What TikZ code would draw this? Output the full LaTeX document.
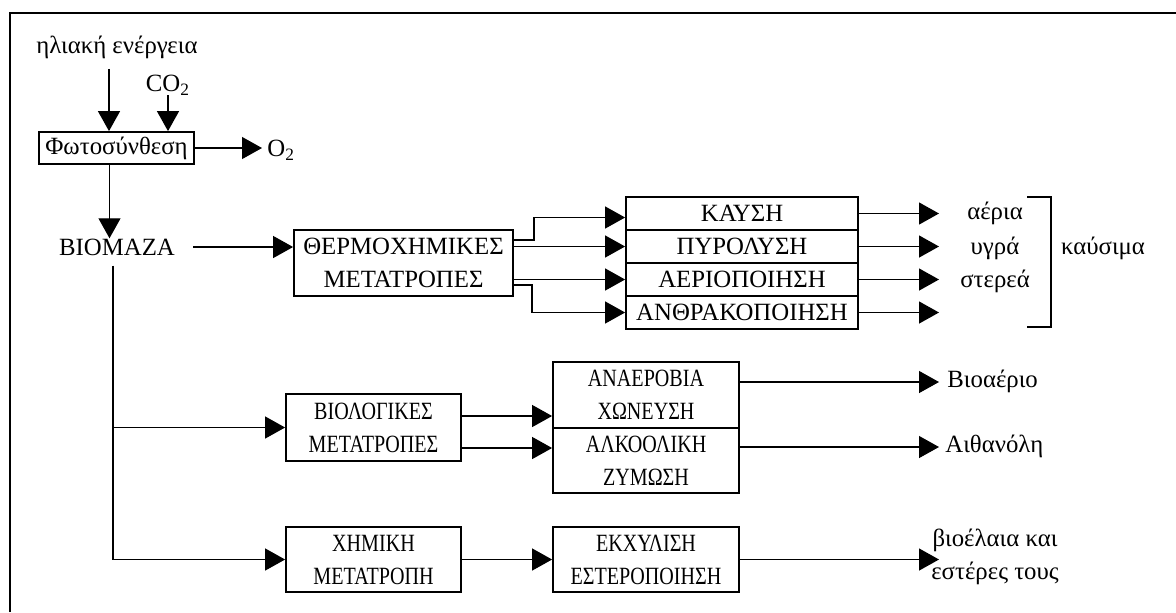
\documentclass[tikz,border=0pt]{standalone}
\usepackage{fontspec}
\setmainfont{Liberation Serif}
\usetikzlibrary{arrows.meta}

% 横向压缩的文字
\newcommand{\sq}[1]{\scalebox{0.81}[1]{#1}}

\begin{document}
\begin{tikzpicture}[x=0.5pt,y=-0.5pt,
        font=\fontsize{12.4}{16.5}\selectfont,
        box/.style={draw,line width=0.9pt,inner sep=0pt,align=center},
        lab/.style={inner sep=0pt,align=center},
        arr/.style={line width=0.6pt,-{Triangle[length=10pt,width=11pt]}}]
        \useasboundingbox (0,0) rectangle (1176,612);
        % 外框
        \draw[line width=1.4pt] (10,612) -- (10,13) -- (1176,13);

        % 光合作用
        \node[lab] (sun) at (117,47) {ηλιακή ενέργεια};
        \node[lab] (co2) at (168,85) {CO\textsubscript{2}};
        \node[box,minimum width=77.5pt,minimum height=16pt] (photo) at (116.5,148) {Φωτοσύνθεση};
        \node[lab,anchor=west] (o2) at (267,150) {O\textsubscript{2}};
        \node[lab] (biomass) at (117,247) {ΒΙΟΜΑΖΑ};

        \coordinate (s1) at ([xshift=-4pt]sun.south);
        \coordinate (p1) at ([xshift=-3.5pt]photo.south);
        \draw[arr,shorten <=5pt] (s1) -- (s1 |- photo.north);
        \draw[arr] (co2.south) -- (co2.south |- photo.north);
        \draw[arr,shorten >=2.5pt] (photo.east) -- (photo.east -| o2.west);
        \draw[arr] (p1) -- (p1 |- biomass.north);

        % 热化学转化
        \node[box,minimum width=109.5pt,minimum height=33pt] (thermo) at (403.5,263) {ΘΕΡΜΟΧΗΜΙΚΕΣ\\ΜΕΤΑΤΡΟΠΕΣ};
        \node[box,minimum width=116pt,minimum height=16.5pt] (kaush) at (742,213.5) {ΚΑΥΣΗ};
        \node[box,minimum width=116pt,minimum height=16.5pt] (pyro) at (742,246.5) {ΠΥΡΟΛΥΣΗ};
        \node[box,minimum width=116pt,minimum height=16.5pt] (aerio) at (742,279.5) {ΑΕΡΙΟΠΟΙΗΣΗ};
        \node[box,minimum width=116pt,minimum height=16.5pt] (anthr) at (742,312.5) {ΑΝΘΡΑΚΟΠΟΙΗΣΗ};

        \draw[arr,shorten <=9pt] (biomass.east) -- (biomass.east -| thermo.west);
        \draw[arr] ([yshift=11.5pt]thermo.east) -- ++(20,0) |- ([yshift=-2pt]kaush.west);
        \draw[arr] (thermo.east |- pyro.west) -- (pyro.west);
        \draw[arr] (thermo.east |- aerio.west) -- (aerio.west);
        \draw[arr] ([yshift=-11pt]thermo.east) -- ++(18,0) |- (anthr.west);

        % 产物
        \coordinate (outx) at (939,0);
        \node[lab] (aeria) at (995,213) {αέρια};
        \node[lab] (ygra) at (995,248) {υγρά};
        \node[lab] (sterea) at (995,281) {στερεά};
        \node[lab] (kausima) at (1103,248) {καύσιμα};
        \draw[line width=0.6pt] (1027,197) -- (1051,197) -- (1051,327) -- (1027,327);
        \foreach \n in {kaush,pyro,aerio,anthr}
            \draw[arr] (\n.east) -- (\n.east -| outx);

        % 生物转化
        \node[box,minimum width=87.5pt,minimum height=33.5pt] (bio) at (373.5,427.5) {\sq{ΒΙΟΛΟΓΙΚΕΣ}\\\sq{ΜΕΤΑΤΡΟΠΕΣ}};
        \node[box,minimum width=93pt,minimum height=33pt] (anaer) at (646,395) {\sq{ΑΝΑΕΡΟΒΙΑ}\\\sq{ΧΩΝΕΥΣΗ}};
        \node[box,minimum width=93pt,minimum height=32.5pt] (alko) at (646,460.5) {\sq{ΑΛΚΟΟΛΙΚΗ}\\\sq{ΖΥΜΩΣΗ}};
        \node[lab,anchor=west] (biogas) at (947,381) {Βιοαέριο};
        \node[lab,anchor=west] (ethanol) at (945,446) {Αιθανόλη};

        \coordinate (b1) at ([yshift=5.75pt]bio.east);
        \coordinate (b2) at ([yshift=-10.25pt]bio.east);
        \draw[arr] (b1) -- (b1 -| anaer.west);
        \draw[arr] (b2) -- (b2 -| alko.west);
        \coordinate (a1) at ([yshift=6.5pt]anaer.east);
        \coordinate (a2) at ([yshift=6.75pt]alko.east);
        \draw[arr] (a1) -- (a1 -| outx);
        \draw[arr] (a2) -- (a2 -| outx);

        % 化学转化
        \node[box,minimum width=87.5pt,minimum height=32.5pt] (chem) at (373.5,559.5) {\sq{ΧΗΜΙΚΗ}\\\sq{ΜΕΤΑΤΡΟΠΗ}};
        \node[box,minimum width=93pt,minimum height=32.5pt] (ekx) at (646,559.5) {\sq{ΕΚΧΥΛΙΣΗ}\\\sq{ΕΣΤΕΡΟΠΟΙΗΣΗ}};
        \node[lab] (bioel) at (995,557) {βιοέλαια και\\εστέρες τους};
        \draw[arr] (chem.east) -- (ekx.west);
        \draw[arr] (ekx.east) -- (ekx.east -| outx);

        % 主干
        \coordinate (trunk) at ([xshift=-2pt]biomass.south);
        \draw[arr,shorten <=5pt] (trunk) |- (chem.west);
        \draw[arr] (trunk |- bio.west) -- (bio.west);
    \end{tikzpicture}
\end{document}
